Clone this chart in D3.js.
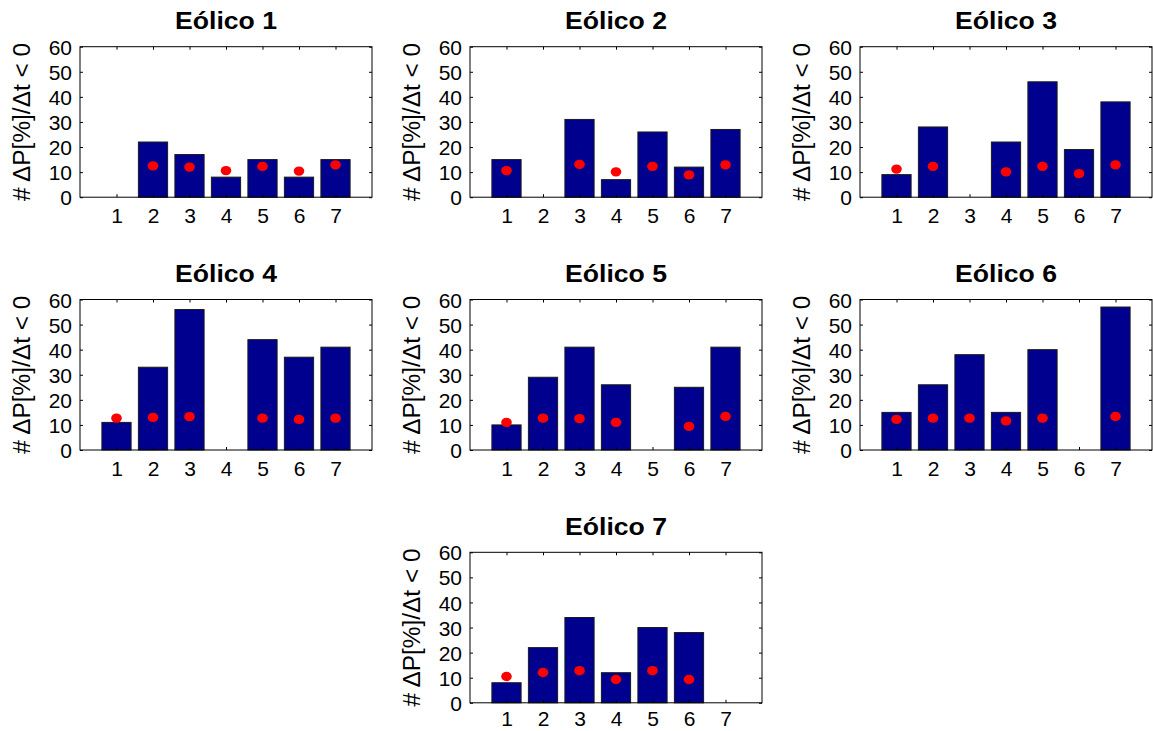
<!DOCTYPE html>
<html>
<head>
<meta charset="utf-8">
<script src="https://cdn.jsdelivr.net/npm/d3@7"></script>
<style>
  html, body { margin: 0; padding: 0; background: #fff; }
  svg { display: block; font-family: "Liberation Sans", Arial, Helvetica, sans-serif; }
</style>
</head>
<body>
<svg id="chart" width="1153" height="731"></svg>
<script>
// ---- data ----
const categories = [1, 2, 3, 4, 5, 6, 7];
const yTicks = [0, 10, 20, 30, 40, 50, 60];
const titles = ["Eólico 1", "Eólico 2", "Eólico 3", "Eólico 4", "Eólico 5", "Eólico 6", "Eólico 7"];
const yLabel = "# ΔP[%]/Δt < 0";

const bars1 = [0, 22, 17, 8, 15, 8, 15];
const bars2 = [15, 0, 31, 7, 26, 12, 27];
const bars3 = [9, 28, 0, 22, 46, 19, 38];
const bars4 = [11, 33, 56, 0, 44, 37, 41];
const bars5 = [10, 29, 41, 26, 0, 25, 41];
const bars6 = [15, 26, 38, 15, 40, 0, 57];
const bars7 = [8, 22, 34, 12, 30, 28, 0];

const dots1 = [null, 12.5, 12.0, 10.6, 12.3, 10.4, 12.9];
const dots2 = [10.6, null, 13.1, 10.1, 12.3, 8.9, 12.9];
const dots3 = [11.2, 12.3, null, 10.1, 12.3, 9.4, 12.9];
const dots4 = [12.7, 13.0, 13.3, null, 12.7, 12.2, 12.7];
const dots5 = [11.0, 12.7, 12.5, 11.0, null, 9.4, 13.4];
const dots6 = [12.2, 12.7, 12.7, 11.6, 12.7, null, 13.4];
const dots7 = [10.5, 12.1, 12.8, 9.3, 12.8, 9.3, null];

const barSeries = [bars1, bars2, bars3, bars4, bars5, bars6, bars7];
const dotSeries = [dots1, dots2, dots3, dots4, dots5, dots6, dots7];

// ---- layout ----
const colX = [80, 470, 860];
const rowY = [46.7, 299.5, 552.3];
const pw = 292, ph = 150.5;
const cells = [[0,0],[1,0],[2,0],[0,1],[1,1],[2,1],[1,2]];

const svg = d3.select("#chart");

cells.forEach(([c, r], i) => {
  const x0 = colX[c], y0 = rowY[r];
  const g = svg.append("g").attr("transform", `translate(${x0},${y0})`);
  const x = d3.scaleLinear().domain([0, 8]).range([0, pw]);
  const y = d3.scaleLinear().domain([0, 60]).range([ph, 0]);
  const bw = x(0.8) - x(0);

  // bars
  g.selectAll("rect.bar").data(categories.map((k, j) => ({k, v: barSeries[i][j]})))
    .enter().append("rect").attr("class", "bar")
    .attr("x", d => x(d.k) - bw / 2)
    .attr("width", bw)
    .attr("y", d => y(d.v))
    .attr("height", d => y(0) - y(d.v))
    .attr("fill", "#00008F")
    .attr("stroke", "#1a1a1a")
    .attr("stroke-width", 1);

  // dots
  g.selectAll("ellipse.dot").data(categories.map((k, j) => ({k, v: dotSeries[i][j]})).filter(d => d.v != null))
    .enter().append("ellipse").attr("class", "dot")
    .attr("cx", d => x(d.k))
    .attr("cy", d => y(d.v))
    .attr("rx", 5.3).attr("ry", 4.7)
    .attr("fill", "#FF0000");

  // axes (inside ticks)
  const fs = "21px";
  const left = g.append("g").call(d3.axisLeft(y).tickValues(yTicks).tickSize(-3).tickSizeOuter(0).tickPadding(8));
  const bottom = g.append("g").attr("transform", `translate(0,${ph})`)
    .call(d3.axisBottom(x).tickValues(categories).tickSize(-3).tickSizeOuter(0).tickPadding(r === 2 ? 8.5 : 11));
  g.append("g").call(d3.axisTop(x).tickValues(categories).tickSize(-3).tickSizeOuter(0).tickFormat(""));
  g.append("g").attr("transform", `translate(${pw},0)`).call(d3.axisRight(y).tickValues(yTicks).tickSize(-3).tickSizeOuter(0).tickFormat(""));
  g.selectAll(".domain").remove();
  g.selectAll(".tick line").attr("stroke", "#000");
  [left, bottom].forEach(a => a.selectAll("text")
    .attr("font-size", fs).attr("fill", "#000")
    .style("font-family", "'Liberation Sans', Arial, sans-serif"));
  left.selectAll("text").attr("dy", "0.36em");
  bottom.selectAll("text").attr("dy", "0.72em");

  // box
  g.append("rect").attr("x", 0).attr("y", 0).attr("width", pw).attr("height", ph)
    .attr("fill", "none").attr("stroke", "#000").attr("stroke-width", 1);

  // title
  g.append("text").attr("x", pw / 2).attr("y", -17.3)
    .attr("text-anchor", "middle").attr("font-weight", "bold").attr("font-size", "24px")
    .attr("textLength", 102).attr("lengthAdjust", "spacingAndGlyphs")
    .text(titles[i]);

  // y label
  g.append("text")
    .attr("transform", `translate(-58,${ph / 2}) rotate(-90)`)
    .attr("text-anchor", "middle").attr("dy", "0.35em").attr("font-size", "23px")
    .attr("textLength", 158).attr("lengthAdjust", "spacingAndGlyphs")
    .text(yLabel);
});
</script>
</body>
</html>
